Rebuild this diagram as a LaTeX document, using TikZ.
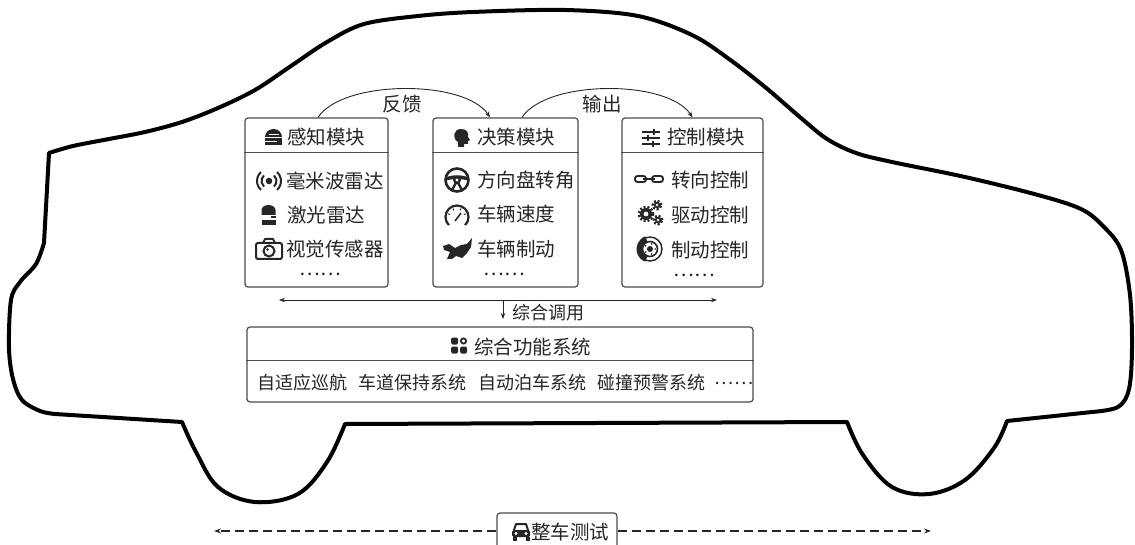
\documentclass[tikz,border=0pt]{standalone}
\usepackage{fontspec}
\setmainfont{Noto Sans CJK SC}
\usetikzlibrary{arrows.meta}
\usetikzlibrary{calc}

\begin{document}
\begin{tikzpicture}[x=1pt, y=-1pt]
        % ================= 样式定义 =================
        \tikzset{
            % 模块框:灰色圆角边,白底
            modbox/.style={draw=black!70, line width=1.2pt, rounded corners=3pt, fill=white, inner sep=0pt},
            % 框内标题与条目之间的分隔线
            sepline/.style={draw=black!70, line width=1.2pt},
            % 文字样式
            titletxt/.style={font=\fontsize{19.5}{20}\selectfont, text=black!85, inner sep=0pt},
            itemtxt/.style={font=\fontsize{19.5}{20}\selectfont, text=black!85, inner sep=0pt, anchor=west},
            smalltxt/.style={font=\fontsize{18}{19}\selectfont, text=black!85, inner sep=0pt},
            % 车身轮廓
            carline/.style={line width=4pt, black, line join=round},
            % 细箭头
            flow/.style={line width=0.9pt, black!85, -{Stealth[length=6pt,width=4.5pt]}},
            busline/.style={line width=0.9pt, black!85, {Stealth[length=6pt,width=4.5pt]}-{Stealth[length=6pt,width=4.5pt]}},
            testline/.style={line width=1.4pt, black!85, dash pattern=on 9pt off 5pt, -{Stealth[length=7pt,width=5pt]}},
            % ---------- 小图标 ----------
            sensoricon/.pic={\begin{scope}[y=1pt]
                \fill[black!85] (-8.5,0) arc (180:0:8.5 and 8) -- cycle;
                \fill[black!85] (-8.5,-1.5) rectangle (8.5,-8.5);
                \draw[white, line width=1pt] (-8.5,-4.8) -- (3,-4.8);
                \draw[white, line width=0.9pt] (-5,3) -- (5,3);
            \end{scope}},
            radaricon/.pic={\begin{scope}[y=1pt]
                \fill[black!85] (0,0) circle (3.3);
                \foreach \r in {7.5,12}{
                    \draw[black!85, line width=2pt] (-48:\r) arc (-48:48:\r);
                    \draw[black!85, line width=2pt] (132:\r) arc (132:228:\r);
                }
            \end{scope}},
            lidaricon/.pic={\begin{scope}[y=1pt]
                \fill[black!85] (-7,0) -- (-7,5) arc (180:0:7 and 5) -- (7,0) -- cycle;
                \fill[black!85] (2,-1.5) rectangle (7,-3);
                \fill[black!85] (-7,-5) rectangle (7,-10);
            \end{scope}},
            cameraicon/.pic={\begin{scope}[y=1pt]
                \draw[black!85, line width=2pt, rounded corners=2pt] (-13,-10) rectangle (13,6);
                \draw[black!85, line width=2pt, line join=round] (-6,6) -- (-4,10) -- (4,10) -- (6,6);
                \draw[black!85, line width=2pt] (0,-2) circle (5.5);
                \fill[black!85] (-1.5,-0.5) circle (1.3);
            \end{scope}},
            headicon/.pic={\begin{scope}[y=1pt]
                \fill[black!85] (-3,-9) -- (-3,-4) .. controls (-9,-1) and (-8,9) .. (0,9)
                    .. controls (6,9) and (8,5) .. (7,1) -- (9,-2) -- (7,-3) -- (7,-6) -- (3,-6) -- (3,-9) -- cycle;
            \end{scope}},
            wheelicon/.pic={\begin{scope}[y=1pt]
                \draw[black!85, line width=2.6pt] (0,0) circle (11.5);
                \fill[black!85] (-11.5,2.5) .. controls (-4,5.5) and (4,5.5) .. (11.5,2.5)
                    -- (11.5,-0.5) .. controls (4,1.5) and (-4,1.5) .. (-11.5,-0.5) -- cycle;
                \draw[black!85, line width=2.4pt] (0,-1) -- (-5,-10);
                \draw[black!85, line width=2.4pt] (0,-1) -- (5,-10);
                \fill[black!85] (0,0) circle (4);
                \fill[white] (0,0) circle (1.6);
            \end{scope}},
            speedicon/.pic={\begin{scope}[y=1pt]
                \draw[black!85, line width=2.2pt] (225:11.5) arc (225:-45:11.5);
                \draw[black!85, line width=1.6pt] (-2,-4) -- (4,4);
                \foreach \a in {160,115,65,20}
                    \draw[black!85, line width=1pt] (\a:9.3) -- (\a:7.3);
            \end{scope}},
            pedalicon/.pic={\begin{scope}[y=1pt]
                \fill[black!85] (-15,3) -- (-9,5) -- (-3,1) -- (3,4) -- (9,5) -- (14,11) -- (13,2)
                    -- (9,-4) -- (4,-9) -- (-2,-7) -- (-6,-10) -- (-11,-10) -- (-8,-3) -- (-14,-1) -- cycle;
            \end{scope}},
            slidericon/.pic={\begin{scope}[y=1pt]
                \foreach \yy/\kx in {6/3, 0/-3, -6/2}{
                    \draw[black!85, line width=1.8pt] (-9,\yy) -- (9,\yy);
                    \fill[black!85] (\kx-1.3,\yy-2.8) rectangle (\kx+1.3,\yy+2.8);
                }
            \end{scope}},
            chainicon/.pic={\begin{scope}[y=1pt]
                \draw[black!85, line width=1.8pt, rounded corners=2.5pt] (-14,-3) rectangle (-3,3);
                \draw[black!85, line width=1.8pt, rounded corners=2.5pt] (3,-3) rectangle (14,3);
                \draw[black!85, line width=1.8pt] (-6,0) -- (6,0);
            \end{scope}},
            gearicon/.pic={\begin{scope}[y=1pt]
                \foreach \cx/\cy/\r in {-4/-2/6, 7/7/3.2, 8/-8/3.2}{
                    \fill[black!85] (\cx,\cy) circle (\r);
                    \draw[black!85, line width=2.5pt, dash pattern=on 2pt off 1.8pt] (\cx,\cy) circle (\r+1);
                    \fill[white] (\cx,\cy) circle (\r*0.4);
                }
            \end{scope}},
            discicon/.pic={\begin{scope}[y=1pt]
                \draw[black!85, line width=1.4pt] (0,0) circle (12);
                \draw[black!85, line width=1.6pt] (0,0) circle (7.5);
                \fill[black!85] (0,0) circle (3);
                \foreach \a in {0,72,...,288} \fill[black!85] (\a:5.3) circle (0.9);
                \fill[black!85] (110:13.5) arc (110:250:13.5) -- (250:8) arc (250:110:8) -- cycle;
            \end{scope}},
            gridicon/.pic={\begin{scope}[y=1pt]
                \fill[black!85, rounded corners=1.5pt] (-8,1) rectangle (-1,8);
                \fill[black!85, rounded corners=1.5pt] (-8,-8) rectangle (-1,-1);
                \fill[black!85, rounded corners=1.5pt] (1,-8) rectangle (8,-1);
                \draw[black!85, line width=1.8pt] (4.5,4.5) circle (2.6);
            \end{scope}},
            caricon/.pic={\begin{scope}[y=1pt]
                \fill[black!85, rounded corners=1.5pt] (-9,-5) rectangle (9,2);
                \draw[black!85, line width=2pt, line join=round] (-7,2) -- (-5,8) -- (5,8) -- (7,2);
                \fill[black!85] (-8.5,-5) rectangle (-4.5,-9);
                \fill[black!85] (4.5,-5) rectangle (8.5,-9);
                \fill[white] (-5,-1.5) circle (1.6);
                \fill[white] (5,-1.5) circle (1.6);
            \end{scope}}
        }

        \useasboundingbox (0,0) rectangle (1135,545);

        % ================= 车身外形 =================
        \draw[carline]
            plot[smooth, tension=0.55] coordinates {(49,153) (73,146) (109,139) (145,132) (182,122)
                (218,108) (255,90) (291,66) (327,42) (364,24) (418,16) (473,12) (565,10) (638,16)
                (692,35) (729,59) (765,87) (801,118) (827,139) (856,153) (892,162) (965,177)
                (1038,195) (1081,209) (1103,226) (1121,250) (1130,295) (1132,348) (1129,389)
                (1118,407) (1092,412)}
            -- plot[smooth, tension=0.6] coordinates {(1007,421) (994,448) (965,480) (929,494)
                (892,487) (863,455) (847,422)}
            -- plot[smooth, tension=0.6] coordinates {(345,424) (327,462) (298,494) (255,502)
                (218,487) (196,452) (182,422)}
            -- plot[smooth, tension=0.55] coordinates {(55,414) (40,411) (22,400) (13,379) (9,348)
                (11,300) (20,282) (36,264) (44,243)}
            -- cycle;

        % ================= 三个模块 =================
        \node[modbox, minimum width=143pt, minimum height=169pt] (perc) at (316.5,202.5) {};
        \node[modbox, minimum width=145pt, minimum height=169pt] (dec)  at (505.5,202.5) {};
        \node[modbox, minimum width=141pt, minimum height=169pt] (ctrl) at (692.5,202.5) {};
        \foreach \b in {perc,dec,ctrl}
            \draw[sepline] ([yshift=-35pt]\b.north west) -- ([yshift=-35pt]\b.north east);

        % 感知模块
        \pic at (273.5,137) {sensoricon};
        \node[titletxt, anchor=west] (percT) at (287,137) {感知模块};
        \pic at (269,181) {radaricon};
        \node[itemtxt] (p1) at (286,181) {毫米波雷达};
        \pic at (268.5,215) {lidaricon};
        \node[itemtxt] (p2) at (287,215) {激光雷达};
        \pic at (269,249) {cameraicon};
        \node[itemtxt] (p3) at (286,249) {视觉传感器};
        \node[titletxt] (pd) at (320,274) {……};

        % 决策模块
        \pic at (461,138) {headicon};
        \node[titletxt, anchor=west] (decT) at (477,137) {决策模块};
        \pic at (457,180) {wheelicon};
        \node[itemtxt] (d1) at (477,180) {方向盘转角};
        \pic at (457,217) {speedicon};
        \node[itemtxt] (d2) at (477,214) {车辆速度};
        \pic at (458,249) {pedalicon};
        \node[itemtxt] (d3) at (477,249) {车辆制动};
        \node[titletxt] (dd) at (504,274) {……};

        % 控制模块
        \pic at (651,138) {slidericon};
        \node[titletxt, anchor=west] (ctrlT) at (667,137) {控制模块};
        \pic at (649,179) {chainicon};
        \node[itemtxt] (c1) at (671,180) {转向控制};
        \pic at (650,212) {gearicon};
        \node[itemtxt] (c2) at (671,215) {驱动控制};
        \pic at (650,249) {discicon};
        \node[itemtxt] (c3) at (671,250) {制动控制};
        \node[titletxt] (cd) at (694,275) {……};

        % 反馈与输出
        \draw[flow] ([xshift=1.5pt]perc.north) .. controls +(25,-38) and +(-25,-38) .. ([xshift=-15.5pt]dec.north);
        \draw[flow] ([xshift=16.5pt]dec.north) .. controls +(25,-38) and +(-25,-38) .. (ctrl.north);
        \node[titletxt] (fb) at (402,104) {反馈};
        \node[titletxt] (out) at (602,104) {输出};

        % ================= 综合调用 =================
        \coordinate (busL) at (279,300);
        \coordinate (busR) at (717,300);
        \coordinate (busM) at (503,300);
        \coordinate (callpt) at (503,319);
        \draw[busline] (busL) -- (busR);
        \draw[flow] (busM) -- (callpt);
        \node[smalltxt, anchor=west] (call) at (512,313) {综合调用};

        % ================= 综合功能系统 =================
        \node[modbox, minimum width=506pt, minimum height=75pt] (sys) at (500,364.5) {};
        \draw[sepline] ([yshift=-34pt]sys.north west) -- ([yshift=-34pt]sys.north east);
        \pic at (459,345.5) {gridicon};
        \node[titletxt, anchor=west] (sysT) at (474,347) {综合功能系统};
        \node[smalltxt] (s1) at (302,383) {自适应巡航};
        \node[smalltxt] (s2) at (412,383) {车道保持系统};
        \node[smalltxt] (s3) at (532.5,383) {自动泊车系统};
        \node[smalltxt] (s4) at (651,383) {碰撞预警系统};
        \node[smalltxt] (s5) at (734,383) {……};

        % ================= 整车测试 =================
        \node[modbox, minimum width=120pt, minimum height=36pt] (test) at (557,531) {};
        \pic at (521,532) {caricon};
        \node[titletxt, anchor=west] (testT) at (531,532) {整车测试};
        \coordinate (testL) at (214,531);
        \coordinate (testR) at (931,531);
        \draw[testline] (test.west) -- (testL);
        \draw[testline] (test.east) -- (testR);

    \end{tikzpicture}
\end{document}
